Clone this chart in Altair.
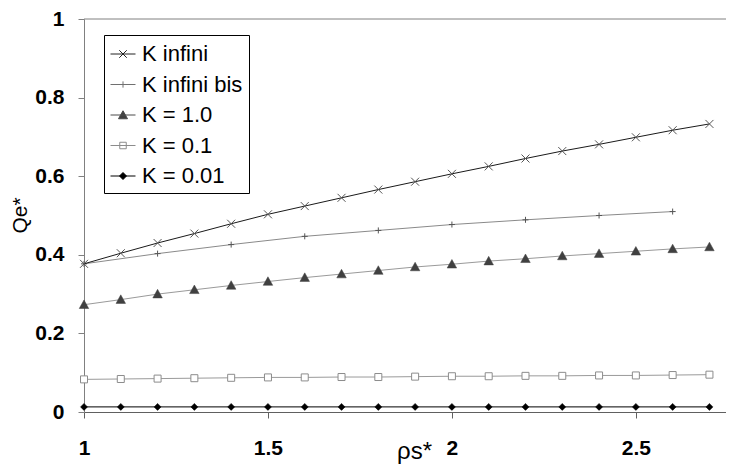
import altair as alt
import pandas as pd

# ---- data ----
x_main = [1.0, 1.1, 1.2, 1.3, 1.4, 1.5, 1.6, 1.7, 1.8, 1.9, 2.0, 2.1, 2.2, 2.3, 2.4, 2.5, 2.6, 2.7]
k_inf = [0.377, 0.404, 0.430, 0.454, 0.479, 0.503, 0.524, 0.545, 0.566, 0.586,
         0.606, 0.625, 0.645, 0.664, 0.681, 0.699, 0.717, 0.733]
x_bis = [1.0, 1.2, 1.4, 1.6, 1.8, 2.0, 2.2, 2.4, 2.6]
k_inf_bis = [0.377, 0.403, 0.426, 0.447, 0.462, 0.477, 0.489, 0.500, 0.510]
k_1 = [0.273, 0.286, 0.300, 0.311, 0.322, 0.332, 0.342, 0.351, 0.360, 0.369,
       0.376, 0.384, 0.390, 0.397, 0.403, 0.409, 0.415, 0.420]
k_01 = [0.083, 0.084, 0.085, 0.086, 0.087, 0.088, 0.088, 0.089, 0.089, 0.090,
        0.091, 0.091, 0.092, 0.092, 0.093, 0.093, 0.094, 0.095]
k_001 = [0.013, 0.013, 0.013, 0.013, 0.013, 0.013, 0.013, 0.013, 0.013, 0.013,
         0.013, 0.013, 0.013, 0.013, 0.013, 0.013, 0.013, 0.013]

series_names = ["K infini", "K infini bis", "K = 1.0", "K = 0.1", "K = 0.01"]
x_ticks = [1, 1.5, 2, 2.5]
y_ticks = [0, 0.2, 0.4, 0.6, 0.8, 1.0]

FONT = "Liberation Sans"

X = alt.X("x:Q",
          scale=alt.Scale(domain=[1, 2.745], nice=False, zero=False),
          axis=alt.Axis(values=x_ticks, format="~g", grid=False,
                        labelFont=FONT, labelFontSize=21, labelFontWeight="bold",
                        labelColor="#000000", labelPadding=19, labelFlush=False,
                        labelOverlap=False,
                        tickSize=6, tickColor="#606060", domainColor="#606060",
                        title="ρs*", titleFont=FONT, titleFontSize=24,
                        titleFontWeight="normal", titleColor="#000000",
                        titleX=330, titleY=46, titleBaseline="alphabetic",
                        titleAlign="center"))
Y = alt.Y("y:Q",
          scale=alt.Scale(domain=[0, 1], nice=False, zero=False),
          axis=alt.Axis(values=y_ticks, format="~g", grid=False,
                        labelFont=FONT, labelFontSize=21, labelFontWeight="bold",
                        labelColor="#000000", labelPadding=14, labelFlush=False,
                        labelOverlap=False,
                        tickSize=6, tickColor="#808080", domainColor="#808080",
                        title="Qe*", titleFont=FONT, titleFontSize=21,
                        titleFontWeight="normal", titleColor="#000000",
                        titleAngle=270, titleX=-64, titleY=196,
                        titleBaseline="middle", titleAlign="center"))


def df(xs, ys):
    return pd.DataFrame({"x": xs, "y": ys})


X_PATH = "M-1,-1L1,1M-1,1L1,-1"
PLUS_PATH = "M0,-1V1M-1,0H1"
TRI_PATH = "M0,-1L1,0.8L-1,0.8Z"
DIA_PATH = "M0,-1L1,0L0,1L-1,0Z"

top_rule = alt.Chart(pd.DataFrame({"y": [1.0]})).mark_rule(color="#808080", strokeWidth=1).encode(y=Y)

layers = [top_rule]

# K = 0.01
d = df(x_main, k_001)
layers.append(alt.Chart(d).mark_line(color="#000000", strokeWidth=1).encode(x=X, y=Y))
layers.append(alt.Chart(d).mark_point(shape=DIA_PATH, size=49, filled=True, fill="#000000",
                                      stroke="#000000", strokeWidth=0.5, opacity=1).encode(x=X, y=Y))
# K = 0.1
d = df(x_main, k_01)
layers.append(alt.Chart(d).mark_line(color="#9a9a9a", strokeWidth=1).encode(x=X, y=Y))
layers.append(alt.Chart(d).mark_point(shape="square", size=49, filled=False, fill="#ffffff",
                                      stroke="#8c8c8c", strokeWidth=1, opacity=1).encode(x=X, y=Y))
# K = 1.0
d = df(x_main, k_1)
layers.append(alt.Chart(d).mark_line(color="#9a9a9a", strokeWidth=1).encode(x=X, y=Y))
layers.append(alt.Chart(d).mark_point(shape=TRI_PATH, size=90, filled=True, fill="#404040",
                                      stroke="#404040", strokeWidth=0.5, opacity=1).encode(x=X, y=Y))
# K infini bis
d = df(x_bis, k_inf_bis)
layers.append(alt.Chart(d).mark_line(color="#8a8a8a", strokeWidth=1).encode(x=X, y=Y))
layers.append(alt.Chart(d).mark_point(shape=PLUS_PATH, size=36, filled=False,
                                      stroke="#555555", strokeWidth=1, opacity=1).encode(x=X, y=Y))
# K infini
d = df(x_main, k_inf)
layers.append(alt.Chart(d).mark_line(color="#1a1a1a", strokeWidth=1).encode(x=X, y=Y))
layers.append(alt.Chart(d).mark_point(shape=X_PATH, size=64, filled=False,
                                      stroke="#555555", strokeWidth=1, opacity=1).encode(x=X, y=Y))

# ---- legend (built from a scale with explicit domain; no visible marks) ----
leg_shapes = ["M-1,0H1" + "M-0.3,-0.3L0.3,0.3M-0.3,0.3L0.3,-0.3",
              "M-1,0H1" + "M0,-0.25V0.25",
              "M-1,0H1" + "M0,-0.34L0.36,0.3L-0.36,0.3Z",
              "M-1,0H1" + "M-0.26,-0.26H0.26V0.26H-0.26Z",
              "M-1,0H1" + "M0,-0.28L0.28,0L0,0.28L-0.28,0Z"]
leg_fill = ["transparent", "transparent", "#404040", "#ffffff", "#000000"]
leg_stroke = ["#222222", "#707070", "#4a4a4a", "#8c8c8c", "#000000"]

legend = alt.Legend(title=None, orient="none", legendX=20, legendY=16,
                    labelFont=FONT, labelFontSize=22, labelColor="#000000",
                    labelOffset=6, symbolSize=625, symbolStrokeWidth=1,
                    rowPadding=6.5, padding=6, strokeColor="#000000",
                    fillColor="#ffffff", symbolOpacity=1)

leg_df = pd.DataFrame({"x": [1.0] * 5, "y": [0.5] * 5, "series": series_names})
leg_layer = alt.Chart(leg_df).transform_filter("false").mark_point(size=625, opacity=1).encode(
    x=X, y=Y,
    shape=alt.Shape("series:N", scale=alt.Scale(domain=series_names, range=leg_shapes), legend=legend),
    fill=alt.Fill("series:N", scale=alt.Scale(domain=series_names, range=leg_fill), legend=legend),
    stroke=alt.Stroke("series:N", scale=alt.Scale(domain=series_names, range=leg_stroke), legend=legend),
)
layers.append(leg_layer)

chart = alt.layer(*layers).properties(
    width=642, height=393,
    padding={"left": 76, "top": 11, "right": 0, "bottom": 52.5},
    autosize=alt.AutoSizeParams(type="none"),
    background="#ffffff",
).configure_view(stroke=None)

chart.save("out.html", embed_options={"renderer": "svg", "actions": False})
